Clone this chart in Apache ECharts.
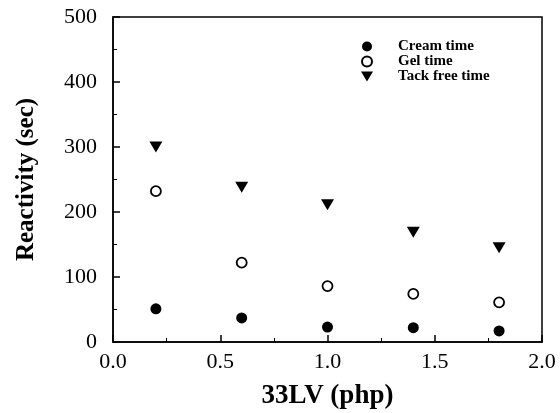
<!DOCTYPE html>
<html>
<head>
<meta charset="utf-8">
<script src="https://cdn.jsdelivr.net/npm/echarts@6/dist/echarts.min.js"></script>
<style>
  html, body { margin: 0; padding: 0; background: #fff; }
  #chart { width: 560px; height: 413px; }
</style>
</head>
<body>
<div id="chart"></div>
<script>
var xValues = [0.2, 0.6, 1.0, 1.4, 1.8];
var creamTime = [51, 37, 23, 22, 17];
var gelTime = [232, 122, 86, 74, 61];
var tackFreeTime = [300, 238, 211, 169, 145];

function pairs(ys) {
    var out = [];
    for (var i = 0; i < xValues.length; i++) {
        out.push([xValues[i], ys[i]]);
    }
    return out;
}

var serif = '"Liberation Serif", "DejaVu Serif", serif';
var downTriangle = 'path://M0,0L12,0L6,10Z';
var chart = echarts.init(document.getElementById('chart'));
chart.setOption({
    animation: false,
    backgroundColor: '#fff',
    grid: {
        left: 113, right: 18, top: 17, bottom: 71,
        containLabel: false,
        outerBoundsMode: 'none',
        show: true, borderColor: '#000', borderWidth: 1.5
    },
    legend: {
        orient: 'vertical',
        left: 356,
        top: 34,
        itemGap: 0,
        itemWidth: 12,
        itemHeight: 10,
        textStyle: {
            fontFamily: serif, fontWeight: 'bold', fontSize: 15, color: '#000',
            padding: [0, 0, 0, 20], lineHeight: 15
        },
        data: [
            { name: 'Cream time', icon: 'circle' },
            { name: 'Gel time', icon: 'circle' },
            { name: 'Tack free time', icon: downTriangle }
        ]
    },
    xAxis: {
        type: 'value',
        min: 0, max: 2, interval: 0.5,
        name: '33LV (php)',
        nameLocation: 'middle',
        nameGap: 41,
        nameTextStyle: { fontFamily: serif, fontWeight: 'bold', fontSize: 27, color: '#000' },
        axisLine: { lineStyle: { color: '#000', width: 1.5 } },
        axisTick: { inside: true, length: 7, lineStyle: { color: '#000', width: 1.5 } },
        minorTick: { show: true, splitNumber: 2, length: 4, lineStyle: { color: '#000' } },
        splitLine: { show: false },
        axisLabel: {
            fontFamily: serif, fontSize: 22, color: '#000', margin: 9,
            formatter: function(v) { return v.toFixed(1); }
        }
    },
    yAxis: {
        type: 'value',
        min: 0, max: 500, interval: 100,
        name: 'Reactivity (sec)',
        nameLocation: 'middle',
        nameGap: 74,
        nameTextStyle: { fontFamily: serif, fontWeight: 'bold', fontSize: 25, color: '#000' },
        axisLine: { lineStyle: { color: '#000', width: 1.5 } },
        axisTick: { inside: true, length: 7, lineStyle: { color: '#000', width: 1.5 } },
        minorTick: { show: true, splitNumber: 2, length: 4, lineStyle: { color: '#000' } },
        splitLine: { show: false },
        axisLabel: { fontFamily: serif, fontSize: 22, color: '#000', margin: 16 }
    },
    series: [{
        name: 'Cream time',
        type: 'scatter',
        symbol: 'circle',
        symbolSize: 11,
        itemStyle: { color: '#000', opacity: 1 },
        data: pairs(creamTime)
    }, {
        name: 'Gel time',
        type: 'scatter',
        symbol: 'circle',
        symbolSize: 10,
        itemStyle: { color: '#fff', borderColor: '#000', borderWidth: 1.8, opacity: 1 },
        data: pairs(gelTime)
    }, {
        name: 'Tack free time',
        type: 'scatter',
        symbol: downTriangle,
        symbolSize: [13, 11],
        itemStyle: { color: '#000', opacity: 1 },
        data: pairs(tackFreeTime)
    }]
});
</script>
</body>
</html>
